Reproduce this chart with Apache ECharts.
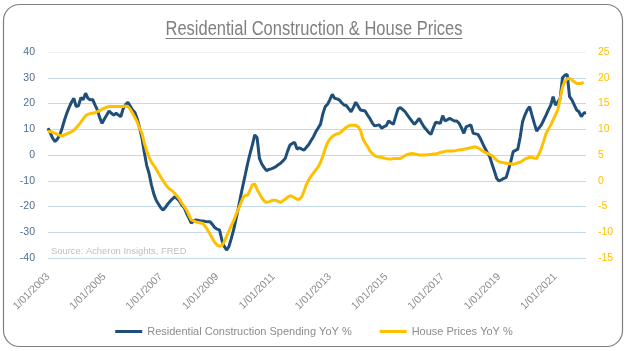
<!DOCTYPE html>
<html><head><meta charset="utf-8">
<script src="https://cdn.jsdelivr.net/npm/echarts@6/dist/echarts.min.js"></script>
<style>html,body{margin:0;padding:0;background:#fff}#c{width:628px;height:351px}</style>
</head><body><div id="c"></div>
<script>
// ---- data ----
const startYear = 2003;
const monthCount = 230; // Jan 2003 .. Feb 2022
const months = [];
for (let i = 0; i < monthCount; i++) {
  const y = startYear + Math.floor(i / 12), m = i % 12 + 1;
  months.push('1/' + String(m).padStart(2, '0') + '/' + y);
}
const seriesNames = ['Residential Construction Spending YoY %', 'House Prices YoY %'];
const construction = [
10.4,8.5,6.5,5.2,6.2,7.8,10.4,13.5,16.2,18.5,20.5,22,
18.8,19.2,22.3,21.5,24,22,21.4,21.6,19.5,17.5,14.5,12.3,
14,15.5,17.1,16.2,15.5,16.2,15.5,14.9,18,19.5,20.5,19,
17.5,16.5,14,10.5,6.5,1,-4,-7.1,-11.5,-15,-17.5,-19,
-20.5,-21.4,-20.3,-19,-18,-17,-16.2,-17,-18,-19.5,-20.5,-22.7,
-24.5,-26.5,-25.5,-25.2,-25.4,-25.6,-25.6,-25.8,-25.9,-25.9,-27,-28.2,
-28.8,-29.1,-33,-35.5,-36.9,-35.6,-32.5,-29.1,-25,-20.7,-16,-11.7,
-7.5,-3.2,0.5,3.9,7.8,6.7,-1.3,-3.5,-4.9,-6.1,-5.6,-5.4,
-5,-4.5,-3.8,-3.2,-2.3,-1.3,1.5,3.9,4.5,4.9,2.3,2.8,
2.3,1.9,3,4.1,5.6,7.1,9,10.5,12,16,18.8,19.7,
21.5,23.6,22,21.8,21.4,20.3,19.4,19.2,18,16.8,18.5,20.5,
19,17.5,17.3,17.1,15.5,14.2,12.5,11.3,11.5,11.7,10.4,11,
11.4,13.2,12.5,11.9,15,17.9,18.4,17.6,16.8,15.5,14.2,13,
11.9,13,14.2,12.5,11,9.9,8.8,8,10.5,12.7,12.5,12.3,
15.3,13.2,13.7,14.2,13.7,13.2,13.2,12.3,10.5,8.4,11,11.3,
11.7,8.4,8.2,8,6.5,4.5,2.6,1,-0.6,-3.5,-6.2,-9.1,
-10.1,-9.6,-9.1,-8.8,-5.8,-2.5,1.3,1.8,2.3,7.1,12.9,15.5,
17.5,18.8,15.5,12.3,9.3,10.5,11.7,13.6,15.5,17.5,19.4,22.7,
19.4,20.5,22,30,31,31.3,22.7,21.4,19.5,17.5,16.8,14.9,
16.2,16.5
];
const housePrices = [
9.6,9.5,9.4,9.2,9,8.8,8.7,8.9,9.1,9.3,9.5,9.8,
10.3,10.8,11.4,12,12.6,12.9,13,13.1,13.2,13.4,13.6,13.9,
14.1,14.3,14.4,14.4,14.4,14.4,14.4,14.4,14.4,14.5,14.4,13.9,
13.1,12.3,11.4,10.2,9.2,7.3,5.8,4.6,3.6,3,2.3,1.5,
0.7,0,-0.7,-1.3,-1.7,-2,-2.5,-3,-3.6,-4.4,-5,-5.7,
-6.7,-7.6,-7.8,-8,-8.1,-8.2,-8.3,-8.9,-9.6,-10.4,-11.2,-12,
-12.5,-12.7,-12.6,-11.9,-10.8,-9.8,-8.7,-7.8,-6.6,-5.6,-4.4,-3.3,
-2.8,-2.8,-1.8,-0.8,-0.6,-1.7,-2.5,-3.3,-3.9,-4.2,-4.1,-3.9,
-3.8,-3.8,-4,-4.2,-3.9,-3.6,-3.2,-2.9,-3.1,-3.3,-3.6,-3.6,
-3.1,-2,-0.7,0.2,0.9,1.5,2.1,2.7,3.6,4.8,6.2,7.4,
8.1,8.6,8.9,9.1,9.2,9.6,10,10.4,10.7,10.8,10.8,10.8,
10.5,9.8,8.2,7.3,6.7,5.8,5.3,4.9,4.7,4.6,4.5,4.4,
4.3,4.2,4.2,4.3,4.3,4.3,4.3,4.6,4.9,5.1,5.2,5.3,
5.2,5.1,5,5,5,5,5.1,5.1,5.2,5.2,5.3,5.5,
5.6,5.7,5.8,5.8,5.8,5.8,5.9,6,6,6.1,6.2,6.3,
6.4,6.5,6.6,6.4,6.1,5.8,5.5,5.3,5.1,4.9,4.4,4,
3.7,3.6,3.5,3.4,3.3,3.3,3.2,3.3,3.5,3.6,3.9,4.2,
4.4,4.6,4.5,4.4,4.3,5.2,6.3,7.7,9.2,10,10.8,11.8,
12.8,13.7,16,18.2,19.3,19.8,19.9,19.6,19.2,18.9,18.9,18.9,
19.1,null
];
const leftAxis = { min: -40, max: 40, interval: 10 };
const rightAxis = { min: -15, max: 25, interval: 5 };
const titleText = 'Residential Construction & House Prices';
const sourceText = 'Source: Acheron Insights, FRED';

// ---- chart ----
const sans = '"Liberation Sans", Arial, sans-serif';
const titleFont = '300 20px ' + sans;
const titleWidth = 297;
const cv = document.createElement('canvas').getContext('2d');
cv.font = titleFont;
const tw = cv.measureText(titleText).width;
const titleScale = titleWidth / tw;

const chart = echarts.init(document.getElementById('c'), null, { renderer: 'canvas' });
const gridColors = ['#C5D9EC','#C5D9EC','#C5D9EC','#C5D9EC','#C5D9EC','#C5D9EC','#C5D9EC','#C5D9EC','#EAF1F8'];
chart.setOption({
  animation: false,
  backgroundColor: '#fff',
  grid: { left: 48, right: 42, top: 52, bottom: 93, containLabel: false },
  legend: {
    data: seriesNames, left: 'center', top: 321,
    icon: 'rect', itemWidth: 27, itemHeight: 3, itemGap: 28,
    textStyle: { color: '#8C8C8C', fontSize: 11, fontFamily: sans }
  },
  xAxis: {
    type: 'category', data: months, boundaryGap: false,
    axisLine: { show: false }, axisTick: { show: false },
    axisLabel: { interval: 23, rotate: 45, margin: 17, color: '#8C8C8C', fontSize: 10.5, fontFamily: sans }
  },
  yAxis: [
    { type: 'value', min: leftAxis.min, max: leftAxis.max, interval: leftAxis.interval,
      axisLine: { show: false }, axisTick: { show: false },
      axisLabel: { margin: 13, color: '#4F6F8F', fontSize: 10.5, fontFamily: sans },
      splitLine: { lineStyle: { color: gridColors, width: 1 } } },
    { type: 'value', min: rightAxis.min, max: rightAxis.max, interval: rightAxis.interval,
      axisLine: { show: false }, axisTick: { show: false },
      axisLabel: { margin: 12, color: '#FFC000', fontSize: 10.5, fontFamily: sans },
      splitLine: { show: false } }
  ],
  series: [
    { name: seriesNames[0], type: 'line', data: construction, yAxisIndex: 0, symbol: 'none',
      lineStyle: { color: '#1F4E79', width: 3 }, itemStyle: { color: '#1F4E79' } },
    { name: seriesNames[1], type: 'line', data: housePrices, yAxisIndex: 1, symbol: 'none',
      lineStyle: { color: '#FFC000', width: 3 }, itemStyle: { color: '#FFC000' } }
  ],
  graphic: [
    { type: 'rect', shape: { x: 3.5, y: 4.5, width: 619, height: 342, r: 16 },
      style: { fill: 'none', stroke: '#7F7F7F', lineWidth: 1.2 }, silent: true },
    { type: 'text', x: 314, y: 29, scaleX: titleScale,
      style: { text: titleText, font: titleFont, fill: '#7F7F7F', align: 'center', verticalAlign: 'middle' } },
    { type: 'line', shape: { x1: 314 - titleWidth / 2, y1: 38.5, x2: 314 + titleWidth / 2, y2: 38.5 },
      style: { stroke: '#7F7F7F', lineWidth: 1 } },
    { type: 'text', x: 51, y: 251,
      style: { text: sourceText, font: '9.4px ' + sans, fill: '#BFBFBF', verticalAlign: 'middle' } }
  ]
});
</script></body></html>
